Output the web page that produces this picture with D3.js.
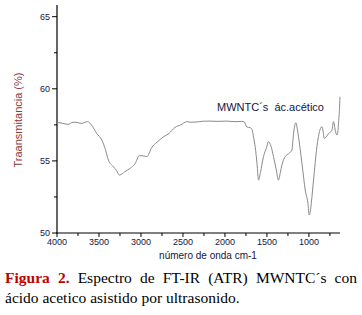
<!DOCTYPE html>
<html><head><meta charset="utf-8">
<script src="https://cdn.jsdelivr.net/npm/d3@7"></script>
<style>
html,body{margin:0;padding:0;background:#fff;}
svg{display:block;}
</style></head>
<body>
<svg id="c" width="362" height="315"></svg>
<script>
// ---- data ----
const wavenumber = [4000,3940,3866,3810,3765,3705,3668,3635,3597,3557,3527,3496,3467,3424,3388,3329,3293,3257,3192,3130,3071,3019,2975,2931,2871,2809,2733,2667,2594,2526,2454,2405,2335,2264,2177,2082,1981,1880,1799,1769,1739,1698,1679,1658,1640,1618,1600,1577,1541,1506,1481,1451,1422,1390,1362,1340,1322,1282,1243,1214,1203,1183,1155,1138,1124,1083,1044,1012,997,981,972,945,905,869,845,830,818,789,766,744,726,707,687,667,654,648,637,630];
const transmittance = [57.67,57.62,57.53,57.68,57.67,57.60,57.68,57.72,57.55,57.2,56.9,56.7,56.45,55.8,55.06,54.6,54.35,54.02,54.25,54.48,54.8,55.36,55.35,55.3,55.94,56.3,56.67,56.9,57.33,57.5,57.72,57.68,57.7,57.75,57.76,57.74,57.76,57.72,57.74,57.7,57.35,57.3,57.19,56.6,55.98,54.8,53.67,54.2,55.3,55.9,56.33,56.0,55.3,54.4,53.67,54.2,54.71,55.3,55.5,55.65,55.75,56.91,57.65,57.2,56.67,54.83,52.98,52.06,51.25,51.6,52.06,53.67,55.98,57.14,57.37,57.0,56.56,56.7,56.91,57.0,57.14,57.72,57.14,56.79,57.1,57.6,58.5,59.45];
const xMajorTicks = [4000,3500,3000,2500,2000,1500,1000];
const xMinorTicks = [3750,3250,2750,2250,1750,1250,750];
const yMajorTicks = [65,60,55,50];
const yMinorTicks = [62.5,57.5,52.5];
const seriesLabel = "MWNTC´s  ác.acético";
const yTitle = "Traansmitancia (%)";
const xTitle = "número de onda cm-1";
const captionLine1 = [["Figura",1],["2.",1],["Espectro",0],["de",0],["FT-IR",0],["(ATR)",0],["MWNTC´s",0],["con",0]];
const captionLine2 = "ácido acetico asistido por ultrasonido.";

// ---- chart ----
const svg = d3.select("#c");
const x = d3.scaleLinear().domain([4000,630]).range([57,340]);
const y = d3.scaleLinear().domain([50,65]).range([233,16.7]);
const axCol = "#000";
const lblCol = "#15153f";
const fontAx = "Liberation Sans, Arial, sans-serif";

// y axis
const gy = svg.append("g").attr("transform","translate(57,0)");
gy.append("line").attr("x1",0).attr("x2",0).attr("y1",5).attr("y2",233.5).attr("stroke",axCol).attr("stroke-width",1.2);
gy.selectAll("line.maj").data(yMajorTicks).join("line").attr("class","maj")
  .attr("x1",-5).attr("x2",0).attr("y1",d=>y(d)).attr("y2",d=>y(d)).attr("stroke",axCol);
gy.selectAll("line.min").data(yMinorTicks).join("line").attr("class","min")
  .attr("x1",-3).attr("x2",0).attr("y1",d=>y(d)).attr("y2",d=>y(d)).attr("stroke",axCol);
gy.selectAll("text").data(yMajorTicks).join("text")
  .attr("x",-7).attr("y",d=>y(d)+3).attr("text-anchor","end")
  .attr("font-family",fontAx).attr("font-size",9).attr("fill",lblCol).text(d=>d);

// x axis
const gx = svg.append("g").attr("transform","translate(0,233)");
gx.append("line").attr("x1",56.4).attr("x2",340).attr("y1",0).attr("y2",0).attr("stroke",axCol).attr("stroke-width",1.2);
gx.selectAll("line.maj").data(xMajorTicks).join("line").attr("class","maj")
  .attr("x1",d=>x(d)).attr("x2",d=>x(d)).attr("y1",0).attr("y2",4).attr("stroke",axCol);
gx.selectAll("line.min").data(xMinorTicks).join("line").attr("class","min")
  .attr("x1",d=>x(d)).attr("x2",d=>x(d)).attr("y1",0).attr("y2",3).attr("stroke",axCol);
gx.selectAll("text").data(xMajorTicks).join("text")
  .attr("x",d=>x(d)).attr("y",12).attr("text-anchor","middle")
  .attr("font-family",fontAx).attr("font-size",9).attr("fill",lblCol).text(d=>d);

// titles
svg.append("text").attr("x",208).attr("y",259).attr("text-anchor","middle")
  .attr("font-family",fontAx).attr("font-size",10).attr("fill",lblCol).text(xTitle);
svg.append("text").attr("transform","translate(22,120) rotate(-90)").attr("text-anchor","middle")
  .attr("font-family",fontAx).attr("font-size",11).attr("fill","#8b3a3a").text(yTitle);

// line
const pts = wavenumber.map((w,i)=>[w,transmittance[i]]);
svg.append("path").datum(pts)
  .attr("d", d3.line().x(d=>x(d[0])).y(d=>y(d[1])).curve(d3.curveMonotoneX))
  .attr("fill","none").attr("stroke","#8a8a8a").attr("stroke-width",1);

svg.append("text").attr("x",217).attr("y",111).attr("xml:space","preserve")
  .attr("font-family",fontAx).attr("font-size",11).attr("fill",lblCol).text(seriesLabel);

// caption
const capFont = "Liberation Serif, Times New Roman, serif";
const capSize = 15.5;
const left = 5, right = 357, base1 = 283, base2 = 303;
const words = captionLine1.map(([t,b])=>{
  const el = svg.append("text").attr("y",base1).attr("font-family",capFont).attr("font-size",capSize)
    .attr("font-weight",b?"bold":"normal").attr("fill",b?"#c00000":"#000").text(t);
  return {el, w: el.node().getComputedTextLength()};
});
const tot = d3.sum(words,d=>d.w);
const gap = (right-left-tot)/(words.length-1);
let cx = left;
words.forEach(d=>{ d.el.attr("x",cx); cx += d.w + gap; });
svg.append("text").attr("x",left).attr("y",base2).attr("font-family",capFont).attr("font-size",capSize)
  .attr("fill","#000").text(captionLine2);
</script>
</body></html>
